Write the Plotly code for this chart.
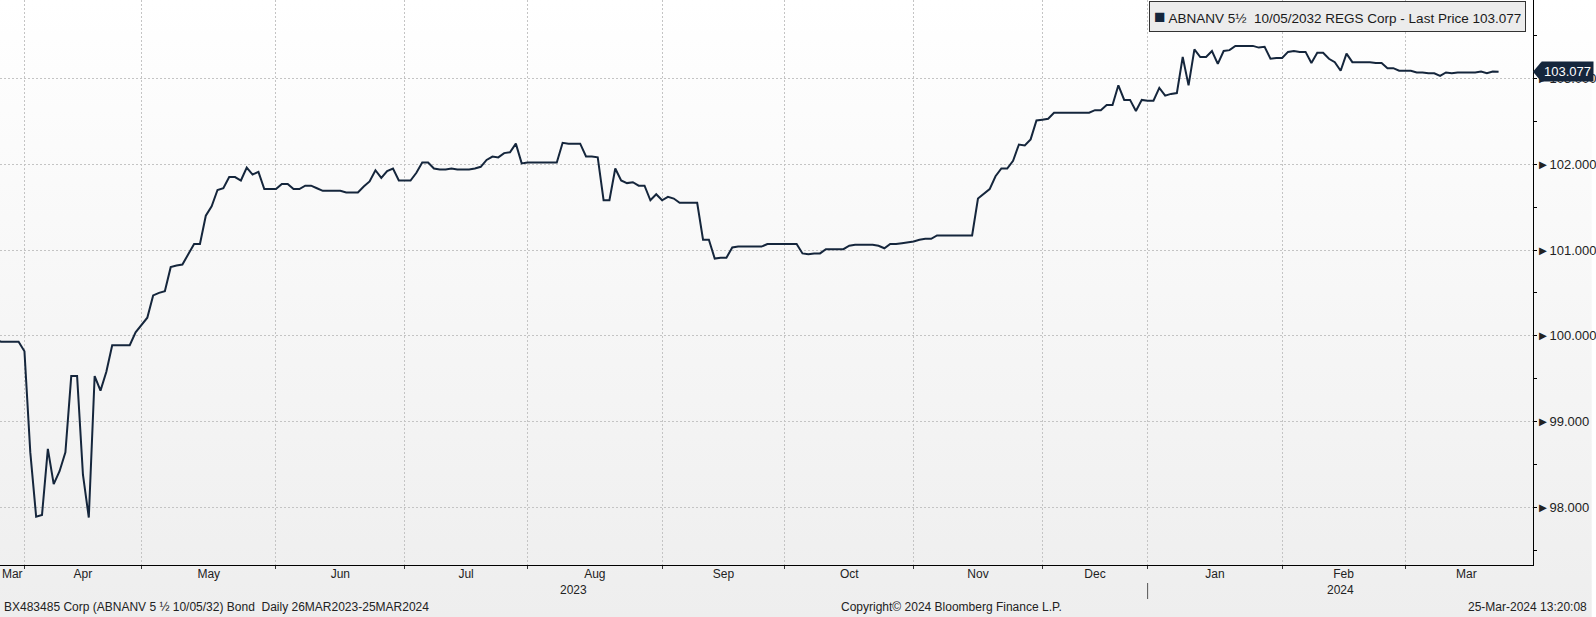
import base64
import numpy as np
import pandas as pd
import plotly.graph_objects as go

# ---------------- data (daily closing prices) ----------------
START = "2023-03-27"
END = "2024-03-25"
HOLIDAYS = ["2023-12-25", "2023-12-26", "2023-12-29"]

mar23 = [99.96, 99.93, 99.93, 99.93, 99.93]
apr23 = [99.82, 98.64, 97.89, 97.91, 98.68, 98.27, 98.42, 98.64, 99.53, 99.53,
         98.38, 97.88, 99.53, 99.36, 99.58, 99.89, 99.89, 99.89, 99.89, 100.04]
may23 = [100.12, 100.21, 100.47, 100.50, 100.52, 100.80, 100.82, 100.83, 100.95, 101.07,
         101.07, 101.40, 101.51, 101.70, 101.72, 101.85, 101.85, 101.81, 101.96, 101.88,
         101.91, 101.71, 101.71]
jun23 = [101.71, 101.77, 101.77, 101.71, 101.71, 101.75, 101.75, 101.72, 101.69, 101.69,
         101.69, 101.69, 101.67, 101.67, 101.67, 101.74, 101.80, 101.93, 101.84, 101.92,
         101.95, 101.81]
jul23 = [101.81, 101.81, 101.90, 102.02, 102.02, 101.95, 101.94, 101.94, 101.95, 101.94,
         101.94, 101.94, 101.95, 101.97, 102.05, 102.09, 102.08, 102.13, 102.14, 102.24,
         102.01]
aug23 = [102.02, 102.02, 102.02, 102.02, 102.02, 102.02, 102.25, 102.24, 102.24, 102.24,
         102.09, 102.09, 102.08, 101.58, 101.58, 101.95, 101.81, 101.78, 101.79, 101.75,
         101.75, 101.58, 101.65]
sep23 = [101.58, 101.62, 101.60, 101.55, 101.55, 101.55, 101.55, 101.12, 101.12, 100.90,
         100.91, 100.91, 101.03, 101.04, 101.04, 101.04, 101.04, 101.04, 101.07, 101.07,
         101.07]
oct23 = [101.07, 101.07, 101.07, 100.96, 100.95, 100.96, 100.96, 101.01, 101.01, 101.01,
         101.01, 101.05, 101.06, 101.06, 101.06, 101.06, 101.05, 101.02, 101.07, 101.07,
         101.08, 101.09]
nov23 = [101.10, 101.12, 101.13, 101.13, 101.17, 101.17, 101.17, 101.17, 101.17, 101.17,
         101.17, 101.60, 101.66, 101.71, 101.86, 101.95, 101.95, 102.04, 102.23, 102.22,
         102.29, 102.51]
dec23 = [102.52, 102.53, 102.60, 102.60, 102.60, 102.60, 102.60, 102.60, 102.60, 102.63,
         102.63, 102.69, 102.69, 102.92, 102.75, 102.75, 102.62, 102.75]
jan24 = [102.74, 102.74, 102.89, 102.80, 102.82, 102.83, 103.25, 102.92, 103.34, 103.25,
         103.25, 103.32, 103.17, 103.32, 103.33, 103.38, 103.38, 103.38, 103.38, 103.36,
         103.37, 103.23, 103.24]
feb24 = [103.24, 103.31, 103.32, 103.31, 103.31, 103.18, 103.30, 103.30, 103.23, 103.19,
         103.09, 103.29, 103.19, 103.19, 103.19, 103.19, 103.18, 103.18, 103.12, 103.12,
         103.09]
mar24 = [103.09, 103.09, 103.07, 103.07, 103.06, 103.06, 103.03, 103.07, 103.06, 103.07,
         103.07, 103.07, 103.07, 103.08, 103.06, 103.08, 103.077]

values = (mar23 + apr23 + may23 + jun23 + jul23 + aug23 + sep23 + oct23 + nov23
          + dec23 + jan24 + feb24 + mar24)

Y_TICKS = [98, 99, 100, 101, 102, 103]
SERIES_NAME = "ABNANV 5½\u00a0\u00a010/05/2032 REGS Corp - Last Price"
FOOTER_LEFT = "BX483485 Corp (ABNANV 5 ½ 10/05/32) Bond\u00a0\u00a0Daily 26MAR2023-25MAR2024"
FOOTER_MID = "Copyright© 2024 Bloomberg Finance L.P."
FOOTER_RIGHT = "25-Mar-2024 13:20:08"

# ---------------- trading calendar ----------------
hol = pd.to_datetime(HOLIDAYS)
cal = pd.bdate_range(START, "2024-04-19")
cal = cal[~cal.isin(hol)]
dates = cal[cal <= pd.Timestamp(END)]
assert len(dates) == len(values), (len(dates), len(values))

# visible window expressed in trading-day positions
X_LEFT, X_RIGHT = 0.82, 262.88


def at(f):
    i = int(np.floor(f))
    return (cal[i] + pd.Timedelta(days=float(f - i))).strftime("%Y-%m-%d %H:%M:%S")


periods = cal.to_period("M")
first_idx = {}
for i, p in enumerate(periods):
    first_idx.setdefault(p, i)
plist = sorted(first_idx)

grid_vals, lab_vals, lab_text = [], [], []
for k, p in enumerate(plist[:-1]):
    s, e = first_idx[p], first_idx[plist[k + 1]]
    if X_LEFT < s < X_RIGHT:
        grid_vals.append(at(s))
    s2, e2 = max(s, X_LEFT), min(e, X_RIGHT)
    if e2 > s2 and s2 < X_RIGHT:
        lab_vals.append(at((s2 + e2) / 2))
        lab_text.append(p.strftime("%b"))

jan_idx = first_idx[pd.Period("2024-01", "M")]
year_pos = [((X_LEFT + jan_idx) / 2, "2023"), ((jan_idx + X_RIGHT) / 2, "2024")]

# ---------------- styling ----------------
NAVY = "#15263c"
FONT = "Liberation Sans, Arial, sans-serif"
W, H = 1596, 617
ML, MR, MT, MB = 0, 59, 0, 52
PW, PH = W - ML - MR, H - MT - MB
YR = [97.327, 103.915]
rb = [dict(bounds=["sat", "mon"]), dict(values=HOLIDAYS)]
xr = [at(X_LEFT), at(X_RIGHT)]

fig = go.Figure()
fig.add_trace(go.Scatter(x=dates, y=values, mode="lines",
                         line=dict(color=NAVY, width=2), name=SERIES_NAME,
                         showlegend=False, hovertemplate="%{x|%d %b %Y}: %{y:.3f}<extra></extra>"))
fig.add_trace(go.Scatter(x=[], y=[], xaxis="x2", showlegend=False, hoverinfo="skip"))

svg = ('<svg xmlns="http://www.w3.org/2000/svg" width="10" height="100" preserveAspectRatio="none">'
       '<defs><linearGradient id="g" x1="0" y1="0" x2="0" y2="1">'
       '<stop offset="0" stop-color="#ffffff"/><stop offset="1" stop-color="#eeeeee"/>'
       '</linearGradient></defs><rect width="10" height="100" fill="url(#g)"/></svg>')
src = "data:image/svg+xml;base64," + base64.b64encode(svg.encode()).decode()

last = values[-1]
ppu = PH / (YR[1] - YR[0])  # pixels per price unit
TAG_SHIFT = 8

annotations = [
    dict(text=f"<span style='font-size:19px;color:{NAVY}'>■</span> {SERIES_NAME} {last:.3f}",
         xref="paper", yref="paper", x=1530 / PW, y=1 - 1 / PH, xanchor="right", yanchor="top",
         showarrow=False, font=dict(family=FONT, size=13.5, color="#1a1a1a"),
         bgcolor="#ececec", bordercolor="#333333", borderwidth=1, borderpad=4),
    dict(text=f"{last:.3f}", xref="paper", yref="y", x=1, y=last, xanchor="left", yanchor="middle",
         xshift=TAG_SHIFT, showarrow=False, font=dict(family=FONT, size=13, color="white"),
         bgcolor=NAVY, borderpad=2),
    dict(text=FOOTER_LEFT, xref="paper", yref="paper", x=2 / PW, y=-(607 - PH) / PH,
         xanchor="left", yanchor="middle", showarrow=False, font=dict(family=FONT, size=12, color="#222")),
    dict(text=FOOTER_MID, xref="paper", yref="paper", x=841 / PW, y=-(607 - PH) / PH,
         xanchor="left", yanchor="middle", showarrow=False, font=dict(family=FONT, size=12, color="#222")),
    dict(text=FOOTER_RIGHT, xref="paper", yref="paper", x=(W - 3) / PW, y=-(607 - PH) / PH,
         xanchor="right", yanchor="middle", showarrow=False, font=dict(family=FONT, size=12, color="#222")),
]
for pos, txt in year_pos:
    annotations.append(dict(text=txt, xref="x", yref="paper", x=at(pos), y=-(590 - PH) / PH,
                            xanchor="center", yanchor="middle", showarrow=False,
                            font=dict(family=FONT, size=12, color="#222")))

d1 = TAG_SHIFT / PW
d2 = (TAG_SHIFT + 3) / PW
dy = 9.5 / ppu
shapes = [
    dict(type="path", xref="paper", yref="y",
         path=f"M 1 {last} L {1 + d1} {last + dy} L {1 + d2} {last + dy} "
              f"L {1 + d2} {last - dy} L {1 + d1} {last - dy} Z",
         fillcolor=NAVY, line=dict(width=0)),
    dict(type="line", xref="x", yref="paper", x0=at(jan_idx), x1=at(jan_idx),
         y0=-(583 - PH) / PH, y1=-(599 - PH) / PH, line=dict(color="#555555", width=1)),
]

fig.update_layout(
    width=W, height=H,
    margin=dict(l=ML, r=MR, t=MT, b=MB),
    paper_bgcolor="white", plot_bgcolor="rgba(0,0,0,0)",
    font=dict(family=FONT, size=13, color="#222"),
    images=[dict(source=src, xref="paper", yref="paper", x=0, y=1, sizex=W / PW, sizey=H / PH,
                 xanchor="left", yanchor="top", sizing="stretch", layer="below")],
    xaxis=dict(type="date", range=xr, rangebreaks=rb, tickmode="array", tickvals=grid_vals,
               showticklabels=False, ticks="outside", ticklen=3, tickcolor="#333",
               showgrid=True, gridcolor="#c4c4c4", griddash="2px,2px", gridwidth=1,
               showline=True, linecolor="black", linewidth=1, zeroline=False, fixedrange=True),
    xaxis2=dict(type="date", overlaying="x", side="bottom", anchor="y", range=xr, rangebreaks=rb,
                tickmode="array", tickvals=lab_vals, ticktext=lab_text, ticks="",
                showgrid=False, showline=False, zeroline=False,
                tickfont=dict(family=FONT, size=12, color="#222")),
    yaxis=dict(side="right", range=YR, tickmode="array", tickvals=Y_TICKS,
               ticktext=[f"\u25BA{v:.3f}" for v in Y_TICKS], ticks="",
               minor=dict(dtick=0.5, ticks="outside", ticklen=3, tickcolor="black", showgrid=False),
               showgrid=True, gridcolor="#c4c4c4", griddash="2px,2px", gridwidth=1,
               showline=True, linecolor="black", linewidth=1, zeroline=False,
               tickfont=dict(family=FONT, size=13, color="#222")),
    annotations=annotations, shapes=shapes, showlegend=False,
)

fig.write_html("out.html", config={"displayModeBar": False},
               post_script="document.body.style.margin='0';")
